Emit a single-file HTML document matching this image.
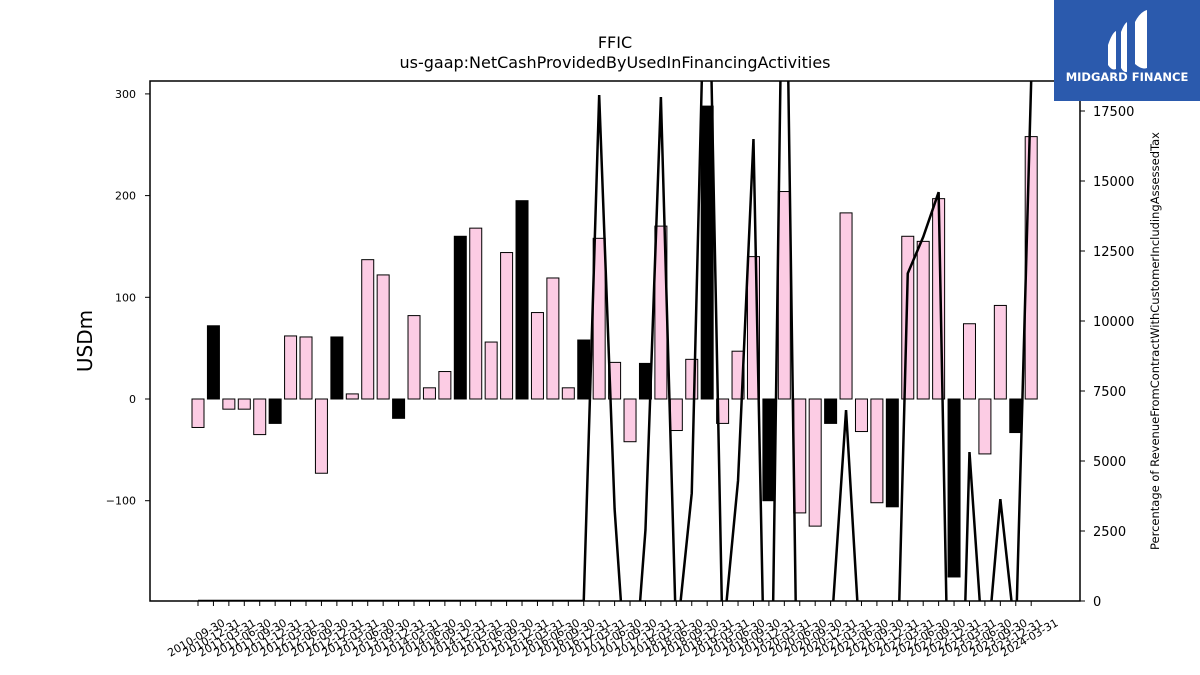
<!DOCTYPE html>
<html><head><meta charset="utf-8"><style>
body{margin:0;background:#fff;width:1200px;height:675px;overflow:hidden;font-family:"DejaVu Sans","Liberation Sans",sans-serif}
svg{display:block}
</style></head><body>
<svg id="chart" width="1200" height="675" xmlns="http://www.w3.org/2000/svg">
<text x="615" y="48" text-anchor="middle" font-size="16">FFIC</text>
<text x="615" y="68" text-anchor="middle" font-size="16">us-gaap:NetCashProvidedByUsedInFinancingActivities</text>
<text transform="translate(92,341) rotate(-90)" text-anchor="middle" font-size="20">USDm</text>
<text transform="translate(1159,341) rotate(-90)" text-anchor="middle" font-size="11.5">Percentage of RevenueFromContractWithCustomerIncludingAssessedTax</text>
<defs><clipPath id="pc"><rect x="150" y="81" width="930" height="520"/></clipPath></defs>
<g id="bars"></g>
<g id="line" clip-path="url(#pc)"></g>
<rect x="150" y="81" width="930" height="520" fill="none" stroke="#000" stroke-width="1.5"/>
<g id="axes"></g>
<g>
<rect x="1054" y="0" width="146" height="101" fill="#2b5aad"/>
<path d="M1108 45 q4-12 8-14 v38 q-4 2-8-4z M1121 32 q3-8 6-10 v50 q-3 1-6-4z M1135 22 q5-10 12-12 v58 q-5 2-12-4z" fill="#fff"/>
<text x="1127" y="81" text-anchor="middle" font-size="11.5" font-weight="bold" fill="#fff">MIDGARD FINANCE</text>
</g>
</svg>
<script>
const categories=["2010-09-30","2010-12-31","2011-03-31","2011-06-30","2011-09-30","2011-12-31","2012-03-31","2012-06-30","2012-09-30","2012-12-31","2013-03-31","2013-06-30","2013-09-30","2013-12-31","2014-03-31","2014-06-30","2014-09-30","2014-12-31","2015-03-31","2015-06-30","2015-09-30","2015-12-31","2016-03-31","2016-06-30","2016-09-30","2016-12-31","2017-03-31","2017-06-30","2017-09-30","2017-12-31","2018-03-31","2018-06-30","2018-09-30","2018-12-31","2019-03-31","2019-06-30","2019-09-30","2019-12-31","2020-03-31","2020-06-30","2020-09-30","2020-12-31","2021-03-31","2021-06-30","2021-09-30","2021-12-31","2022-03-31","2022-06-30","2022-09-30","2022-12-31","2023-03-31","2023-06-30","2023-09-30","2023-12-31","2024-03-31"];
const barValues=[-28,72,-10,-10,-35,-24,62,61,-73,61,5,137,122,-19,82,11,27,160,168,56,144,195,85,119,11,58,158,36,-42,35,170,-31,39,288,-24,47,140,-100,204,-112,-125,-24,183,-32,-102,-106,160,155,197,-175,74,-54,92,-33,258];
const lineValues=[0,0,0,0,0,0,0,0,0,0,0,0,0,0,0,0,0,0,0,0,0,0,0,0,0,0,18070,3290,-4800,2540,18000,-1500,3850,26500,-1500,4300,16500,-11000,28600,-10250,-5000,-1460,6820,-2500,-6000,-9600,11700,13000,14600,-14500,5320,-2700,3640,-1400,18600];
const leftTicks=[-100,0,100,200,300];
const rightTicks=[0,2500,5000,7500,10000,12500,15000,17500];
const NS="http://www.w3.org/2000/svg";
const xS=i=>198+i*(1031.2-198)/54;
const yL=v=>399-1.017*v;
const yR=v=>601-0.028*v;
function mk(t,a,p){const e=document.createElementNS(NS,t);for(const k in a)e.setAttribute(k,a[k]);p.appendChild(e);return e;}
const bars=document.getElementById('bars');
barValues.forEach((v,i)=>{
 const y0=yL(0),y1=yL(v);
 const r=mk('rect',{x:xS(i)-6,y:Math.min(y0,y1),width:12,height:Math.abs(y1-y0),fill:(i%4===1)?'#000':'#fccce4',stroke:'#000','stroke-width':1},bars);
 
 
});
const line=document.getElementById('line');
const pl=mk('polyline',{points:lineValues.map((v,i)=>xS(i)+','+yR(v)).join(' '),fill:'none',stroke:'#000','stroke-width':2.5,'stroke-linejoin':'miter'},line);


const ax=document.getElementById('axes');
leftTicks.forEach(v=>{
 mk('line',{x1:145,x2:150,y1:yL(v),y2:yL(v),stroke:'#000'},ax);
 const t=mk('text',{x:136,y:yL(v)+4,'text-anchor':'end','font-size':11},ax);
 t.textContent=v<0?'\u2212'+(-v):v;
 
 
});
rightTicks.forEach(v=>{
 mk('line',{x1:1080,x2:1085,y1:yR(v),y2:yR(v),stroke:'#000'},ax);
 const t=mk('text',{x:1093,y:yR(v)+5,'font-size':13},ax);
 t.textContent=v;
 
 
});
categories.forEach((c,i)=>{
 const x=xS(i);
 mk('line',{x1:x,x2:x,y1:601,y2:606,stroke:'#000'},ax);
 const t=mk('text',{transform:'translate('+x+',641) rotate(-30)','text-anchor':'middle','font-size':11},ax);
 t.textContent=c;
 
 
});
</script>
</body></html>
